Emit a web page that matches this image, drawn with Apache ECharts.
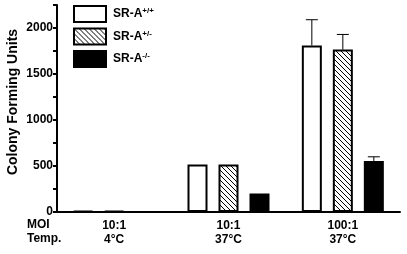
<!DOCTYPE html>
<html><head><meta charset="utf-8">
<script src="https://cdn.jsdelivr.net/npm/echarts@6/dist/echarts.min.js"></script>
<style>html,body{margin:0;padding:0;background:#fff}#c{width:407px;height:254px}</style>
</head><body><div id="c"></div>
<script>
const moi = ['10:1', '10:1', '100:1'];
const temp = ['4°C', '37°C', '37°C'];
const seriesNames = ['+/+', '+/-', '-/-'];
const wt = [12, 515, 1810];
const het = [12, 515, 1765];
const ko = [0, 200, 555];
const wtErr = [0, 0, 280];
const hetErr = [0, 0, 165];
const koErr = [0, 0, 45];
const yTicks = [0, 500, 1000, 1500, 2000];

const categories = moi.map((m, i) => m + '\n' + temp[i]);

// hatch pattern "\\\\"
const pc = document.createElement('canvas');
pc.width = 5; pc.height = 5;
const pctx = pc.getContext('2d');
pctx.fillStyle = '#fff'; pctx.fillRect(0, 0, 5, 5);
pctx.fillStyle = '#000';
for (let i = 0; i < 5; i++) pctx.fillRect(i, i, 1, 1);

const FONT = 'Liberation Sans, Arial, sans-serif';
const BW = 20, STEP = 31;
const fills = ['#ffffff', {image: pc, repeat: 'repeat'}, '#000000'];
const values = [wt, het, ko];
const errs = [wtErr, hetErr, koErr];

const series = values.map((v, k) => ({
  name: seriesNames[k], type: 'bar', data: v, barWidth: BW, barGap: '55%',
  itemStyle: {color: fills[k], borderColor: '#000', borderWidth: 2},
  emphasis: {disabled: true}, animation: false, z: 3
}));

values.forEach((v, k) => {
  series.push({
    type: 'custom', animation: false, silent: true, z: 2,
    data: v.map((val, i) => [i, val, val + errs[k][i]]),
    renderItem: function (params, api) {
      const top = api.value(2), base = api.value(1);
      if (top <= base) return;
      const p0 = api.coord([api.value(0), base]);
      const p1 = api.coord([api.value(0), top]);
      const x = p0[0] + (k - 1) * STEP;
      return {type: 'group', children: [
        {type: 'line', shape: {x1: x, y1: p0[1], x2: x, y2: p1[1]}, style: {stroke: '#000', lineWidth: 1}},
        {type: 'line', shape: {x1: x - 6, y1: p1[1], x2: x + 6, y2: p1[1]}, style: {stroke: '#000', lineWidth: 1}}
      ]};
    }
  });
});

const chart = echarts.init(document.getElementById('c'), null, {renderer: 'canvas'});
chart.setOption({
  animation: false,
  grid: {left: 57, right: 7, top: 5, bottom: 42},
  legend: {
    orient: 'vertical', left: 73, top: 5, padding: 0, itemWidth: 32, itemHeight: 16, itemGap: 4.5,
    data: seriesNames, icon: 'rect', selectedMode: false,
    formatter: n => '{b|SR-A}{s|' + n + '}',
    textStyle: {padding: [0, 0, 0, 2], rich: {
      b: {fontFamily: FONT, fontWeight: 'bold', fontSize: 12, color: '#000', lineHeight: 14},
      s: {fontFamily: FONT, fontWeight: 'bold', fontSize: 8, color: '#000', verticalAlign: 'top', lineHeight: 14, padding: [0, 0, 6, 0]}
    }}
  },
  xAxis: {
    type: 'category', data: categories,
    axisLine: {lineStyle: {color: '#000', width: 2}},
    axisTick: {alignWithLabel: true, length: 4, lineStyle: {color: '#000', width: 2}},
    axisLabel: {margin: 7, fontFamily: FONT, fontWeight: 'bold', fontSize: 12, color: '#000', lineHeight: 14}
  },
  yAxis: {
    type: 'value', min: 0, max: 2250, interval: 250,
    splitLine: {show: false},
    axisLine: {show: true, lineStyle: {color: '#000', width: 2}},
    axisTick: {show: true, length: 4, lineStyle: {color: '#000', width: 2}},
    axisLabel: {margin: 4, fontFamily: FONT, fontWeight: 'bold', fontSize: 12, color: '#000',
      formatter: v => yTicks.indexOf(v) >= 0 ? String(v) : ''}
  },
  graphic: [
    {type: 'text', left: 27, top: 219, style: {text: 'MOI', font: 'bold 12px ' + FONT, fill: '#000'}},
    {type: 'text', left: 27, top: 233, style: {text: 'Temp.', font: 'bold 12px ' + FONT, fill: '#000'}},
    {type: 'text', x: 13, y: 102, rotation: Math.PI / 2,
      style: {text: 'Colony Forming Units', font: 'bold 14px ' + FONT, fill: '#000', align: 'center', verticalAlign: 'middle'}}
  ],
  series: series
});
</script></body></html>
